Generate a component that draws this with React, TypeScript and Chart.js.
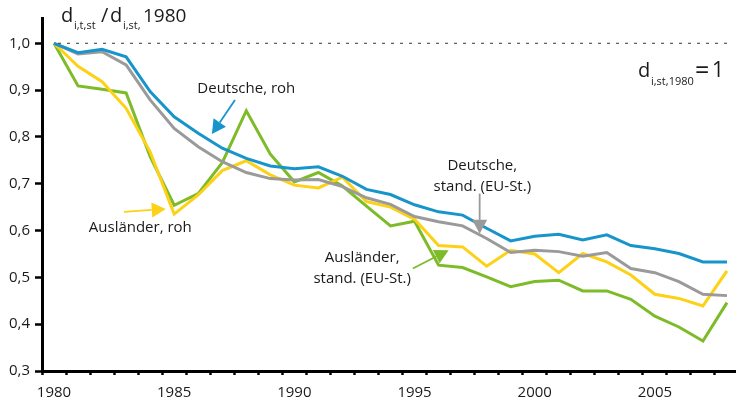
import React, { useEffect, useRef } from 'react';
import { Chart, registerables } from 'chart.js';

Chart.register(...registerables);

const years: string[] = [
  '1980', '1981', '1982', '1983', '1984', '1985', '1986', '1987', '1988', '1989',
  '1990', '1991', '1992', '1993', '1994', '1995', '1996', '1997', '1998', '1999',
  '2000', '2001', '2002', '2003', '2004', '2005', '2006', '2007', '2008',
];

const deutscheRoh = [
  1.0, 0.98, 0.987, 0.971, 0.897, 0.843, 0.808, 0.776, 0.754, 0.738,
  0.732, 0.736, 0.716, 0.688, 0.677, 0.655, 0.64, 0.633, 0.605, 0.578,
  0.588, 0.592, 0.58, 0.591, 0.568, 0.561, 0.551, 0.533, 0.533,
];
const deutscheStand = [
  1.0, 0.977, 0.982, 0.954, 0.879, 0.818, 0.779, 0.747, 0.724, 0.711,
  0.708, 0.709, 0.694, 0.67, 0.656, 0.63, 0.619, 0.61, 0.583, 0.553,
  0.558, 0.555, 0.545, 0.553, 0.519, 0.51, 0.491, 0.464, 0.461,
];
const auslaenderRoh = [
  1.0, 0.951, 0.918, 0.861, 0.768, 0.635, 0.676, 0.728, 0.749, 0.719,
  0.697, 0.691, 0.714, 0.662, 0.65, 0.624, 0.568, 0.565, 0.524, 0.558,
  0.55, 0.51, 0.551, 0.533, 0.505, 0.464, 0.455, 0.439, 0.514,
];
const auslaenderStand = [
  1.0, 0.909, 0.902, 0.894, 0.758, 0.654, 0.679, 0.745, 0.856, 0.763,
  0.704, 0.724, 0.695, 0.652, 0.61, 0.62, 0.526, 0.521, 0.501, 0.48,
  0.491, 0.494, 0.471, 0.471, 0.453, 0.417, 0.394, 0.364, 0.446,
];

const yTickValues = [0.3, 0.4, 0.5, 0.6, 0.7, 0.8, 0.9, 1.0];
const referenceLevel = 1.0;

const BLUE = '#1795cb';
const GRAY = '#9a9a9a';
const YELLOW = '#fcd116';
const GREEN = '#7dbb28';
const FONT = "'Open Sans', 'Noto Sans', sans-serif";
const TEXT = '#1a1a1a';

// annotations in data units: year (fractional) and value
const arrows = [
  { from: [1987.53, 0.879], to: [1986.57, 0.806], color: BLUE },
  { from: [1982.91, 0.64], to: [1984.65, 0.646], color: YELLOW },
  { from: [1997.71, 0.679], to: [1997.71, 0.593], color: GRAY },
  { from: [1994.93, 0.519], to: [1996.42, 0.558], color: GREEN },
];
const labels = [
  { lines: ['Deutsche, roh'], at: [1988.0, 0.902] },
  { lines: ['Ausländer, roh'], at: [1983.59, 0.606] },
  { lines: ['Deutsche,', 'stand. (EU-St.)'], at: [1997.82, 0.716] },
  { lines: ['Ausländer,', 'stand. (EU-St.)'], at: [1992.82, 0.52] },
];

function drawArrow(ctx: CanvasRenderingContext2D, x1: number, y1: number, x2: number, y2: number, color: string) {
  const ang = Math.atan2(y2 - y1, x2 - x1);
  const headLen = 14;
  const headW = 7.5;
  const bx = x2 - Math.cos(ang) * headLen;
  const by = y2 - Math.sin(ang) * headLen;
  ctx.save();
  ctx.strokeStyle = color;
  ctx.fillStyle = color;
  ctx.lineWidth = 1.8;
  ctx.beginPath();
  ctx.moveTo(x1, y1);
  ctx.lineTo(bx, by);
  ctx.stroke();
  ctx.beginPath();
  ctx.moveTo(x2, y2);
  ctx.lineTo(bx + Math.sin(ang) * headW, by - Math.cos(ang) * headW);
  ctx.lineTo(bx - Math.sin(ang) * headW, by + Math.cos(ang) * headW);
  ctx.closePath();
  ctx.fill();
  ctx.restore();
}

const annotationPlugin = {
  id: 'annotations',
  afterDatasetsDraw(chart: any) {
    const ctx: CanvasRenderingContext2D = chart.ctx;
    const xs = chart.scales.x;
    const ys = chart.scales.y;
    const px = (yr: number) => xs.getPixelForValue(yr - 1980);
    const py = (v: number) => ys.getPixelForValue(v);

    // dashed reference line
    ctx.save();
    ctx.strokeStyle = '#333';
    ctx.lineWidth = 1;
    ctx.setLineDash([3, 6]);
    ctx.beginPath();
    ctx.moveTo(px(1980) + 4, py(referenceLevel));
    ctx.lineTo(px(2008), py(referenceLevel));
    ctx.stroke();
    ctx.restore();

    arrows.forEach((a) => drawArrow(ctx, px(a.from[0]), py(a.from[1]), px(a.to[0]), py(a.to[1]), a.color));

    ctx.save();
    ctx.fillStyle = TEXT;
    ctx.font = `15px ${FONT}`;
    ctx.textAlign = 'center';
    ctx.textBaseline = 'middle';
    labels.forEach((l) => {
      const n = l.lines.length;
      l.lines.forEach((t, i) => {
        ctx.fillText(t, px(l.at[0]), py(l.at[1]) + (i - (n - 1) / 2) * 21);
      });
    });
    ctx.restore();

    // title & right note (with subscripts)
    ctx.save();
    ctx.fillStyle = TEXT;
    ctx.textAlign = 'left';
    ctx.textBaseline = 'alphabetic';
    const big = `20px ${FONT}`;
    const small = `11px ${FONT}`;
    const segs: [string, string, number, number][] = [
      ['d', big, 61, 22],
      ['i,t,st', small, 74, 29],
      ['/', big, 101, 22],
      ['d', big, 110, 22],
      ['i,st,', small, 123, 29],
      ['1980', `19px ${FONT}`, 143, 22],
      ['d', big, 638, 77],
      ['i,st,1980', small, 651, 85],
      ['=', `25px ${FONT}`, 695, 79],
      ['1', `21px ${FONT}`, 712, 77],
    ];
    segs.forEach(([t, f, x, y]) => {
      ctx.font = f;
      ctx.fillText(t, x, y);
    });
    ctx.restore();
  },
};

export default function App() {
  const ref = useRef<HTMLCanvasElement>(null);
  useEffect(() => {
    if (!ref.current) return;
    const mk = (label: string, data: number[], color: string) => ({
      label,
      data,
      borderColor: color,
      backgroundColor: color,
      borderWidth: 3,
      pointRadius: 0,
      tension: 0,
      fill: false,
    });
    const chart = new Chart(ref.current, {
      type: 'line',
      data: {
        labels: years,
        datasets: [
          mk('Deutsche, roh', deutscheRoh, BLUE),
          mk('Deutsche, stand. (EU-St.)', deutscheStand, GRAY),
          mk('Ausländer, roh', auslaenderRoh, YELLOW),
          mk('Ausländer, stand. (EU-St.)', auslaenderStand, GREEN),
        ],
      },
      options: {
        responsive: false,
        devicePixelRatio: 1,
        animation: false,
        layout: { padding: { top: 18, left: 0, right: 0, bottom: 0 } },
        plugins: { legend: { display: false }, tooltip: { enabled: false } },
        scales: {
          x: {
            type: 'category',
            offset: true,
            grid: {
              display: true,
              drawOnChartArea: false,
              drawTicks: true,
              tickLength: 4,
              tickWidth: 2.5,
              color: '#000',
              offset: true,
            },
            border: { display: true, color: '#000', width: 3 },
            ticks: {
              autoSkip: false,
              maxRotation: 0,
              minRotation: 0,
              padding: 9,
              color: TEXT,
              font: { family: FONT, size: 15 },
              callback: (_v: any, i: number) => (Number(years[i]) % 5 === 0 ? years[i] : ''),
            },
            afterFit: (s: any) => {
              s.height = 33;
            },
          },
          y: {
            type: 'linear',
            min: yTickValues[0],
            max: 1.054,
            grid: {
              display: true,
              drawOnChartArea: false,
              drawTicks: true,
              tickLength: 7,
              tickWidth: 2.5,
              color: '#000',
            },
            border: { display: true, color: '#000', width: 3 },
            afterBuildTicks: (s: any) => {
              s.ticks = yTickValues.map((v) => ({ value: v }));
            },
            ticks: {
              padding: 5,
              color: TEXT,
              font: { family: FONT, size: 15 },
              callback: (v: any) => Number(v).toFixed(1).replace('.', ','),
            },
            afterFit: (s: any) => {
              s.width = 42;
            },
          },
        },
      },
      plugins: [annotationPlugin],
    } as any);
    return () => chart.destroy();
  }, []);
  return (
    <div
      style={{
        position: 'fixed',
        left: 0,
        top: 0,
        width: 736,
        height: 404,
        overflow: 'hidden',
        background: '#fff',
      }}
    >
      <canvas ref={ref} width={739} height={404} style={{ display: 'block', width: 739, height: 404 }} />
    </div>
  );
}
